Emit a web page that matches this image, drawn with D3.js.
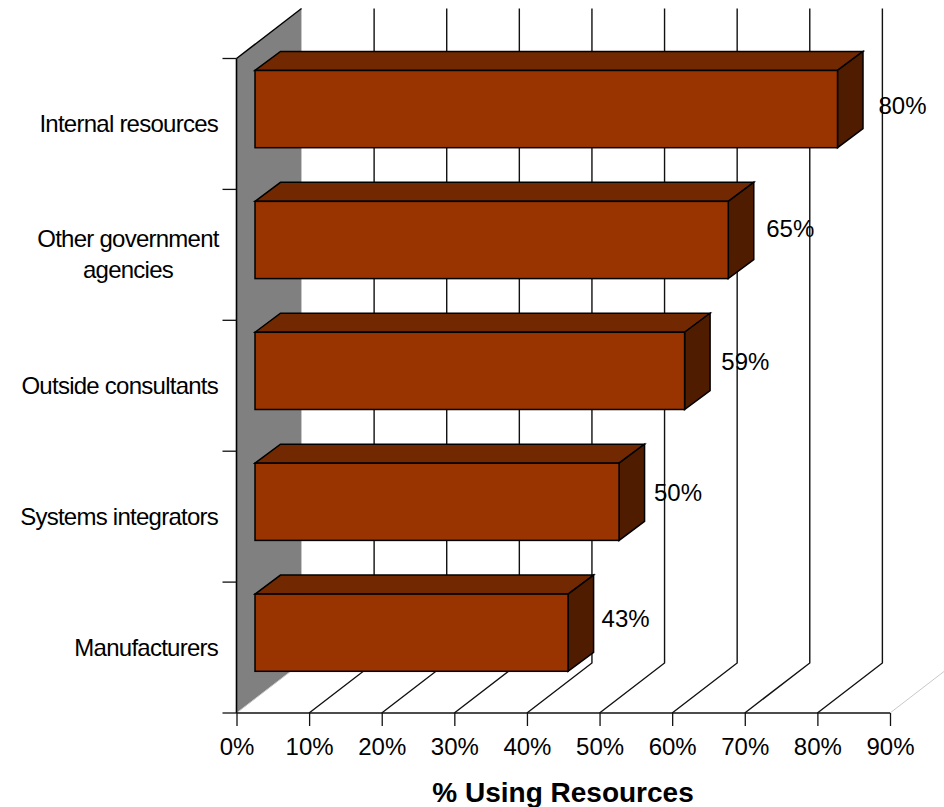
<!DOCTYPE html>
<html><head><meta charset="utf-8">
<script src="https://cdn.jsdelivr.net/npm/d3@7"></script>
<style>html,body{margin:0;padding:0;background:#fff}svg{display:block}text{font-family:"Liberation Sans",Arial,sans-serif;fill:#000}</style>
</head><body><div id="chart"></div>
<script>
const categories = ["Internal resources","Other government agencies","Outside consultants","Systems integrators","Manufacturers"];
const categoryLines = [["Internal resources"],["Other government","agencies"],["Outside consultants"],["Systems integrators"],["Manufacturers"]];
const values = [80,65,59,50,43];
const xTicks = [0,10,20,30,40,50,60,70,80,90];

const W=944,H=807;
const x0=236.5,x90=890,yTop=58.5,yBot=713;
const depth={x:65,y:-50};
const barDepth={x:25.5,y:-19};
const labelPad = d3.scaleLinear().domain([43,80]).range([57.5,65]);
const labelCenterY = [105,228,361,492,618];

const svg=d3.select("#chart").append("svg").attr("width",W).attr("height",H);
const x=d3.scaleLinear().domain([0,90]).range([x0,x90]);
const bx=d3.scaleLinear().domain([0,80]).range([255,837.5]);
const y=d3.scaleBand().domain(categories).range([yTop,yBot]).paddingInner(0.41).paddingOuter(0.205).align(0.223);
const bandTicks=d3.range(categories.length+1).map(i=>yTop+i*(yBot-yTop)/categories.length);

svg.append("path").attr("d",d3.line()([[x0,yTop],[x0+depth.x,yTop+depth.y],[x0+depth.x,yBot+depth.y],[x0,yBot]])+"Z").attr("fill","#808080");
const grid=svg.append("g").attr("fill","none");
xTicks.forEach(t=>{
  const sx=x(t), gx=sx+depth.x, by=yBot+depth.y;
  const c = t===0||t===90? "#c8c8c8":"#111";
  grid.append("path").attr("d",d3.line()([[sx,yBot],[gx,by],[gx,yTop+depth.y]])).attr("stroke",c).attr("stroke-width",t===0||t===90?1:1.4);
});
svg.append("line").attr("x1",x0).attr("y1",yTop).attr("x2",x0+depth.x).attr("y2",yTop+depth.y).attr("stroke","#000").attr("stroke-width",1.4);
svg.append("line").attr("x1",x0).attr("y1",yTop).attr("x2",x0).attr("y2",yBot).attr("stroke","#000").attr("stroke-width",1.6);
svg.append("line").attr("x1",x0).attr("y1",yBot).attr("x2",x90).attr("y2",yBot).attr("stroke","#111").attr("stroke-width",1.4);
bandTicks.forEach(t=>svg.append("line").attr("x1",x0-14).attr("x2",x0).attr("y1",t).attr("y2",t).attr("stroke","#111").attr("stroke-width",1.3));
const ax=svg.append("g").attr("transform",`translate(0,${yBot})`).call(d3.axisBottom(x).tickValues(xTicks).tickSize(13).tickPadding(12).tickFormat(d=>d+"%"));
ax.select(".domain").remove();
ax.selectAll("line").attr("stroke","#111").attr("stroke-width",1.3);
ax.selectAll("text").style("font-size","24px").style("font-family",'"Liberation Sans"').attr("fill","#000");
const bars=svg.append("g").attr("stroke","#000").attr("stroke-width",1.5).attr("stroke-linejoin","miter");
const line=d3.line();
values.forEach((v,i)=>{
  const t=y(categories[i]),h=y.bandwidth(),l=bx(0),r=bx(v);
  bars.append("path").attr("fill","#722800").attr("d",line([[l,t],[l+barDepth.x,t+barDepth.y],[r+barDepth.x,t+barDepth.y],[r,t]])+"Z");
  bars.append("path").attr("fill","#4f1c00").attr("d",line([[r,t],[r+barDepth.x,t+barDepth.y],[r+barDepth.x,t+h+barDepth.y],[r,t+h]])+"Z");
  bars.append("rect").attr("fill","#993300").attr("x",l).attr("y",t).attr("width",r-l).attr("height",h);
  svg.append("text").attr("x",r+labelPad(v)).attr("y",labelCenterY[i]+8.5).attr("text-anchor","middle").style("font-size","24px").text(v+"%");
});
categoryLines.forEach((ls,i)=>{
  const cy=(bandTicks[i]+bandTicks[i+1])/2+ (ls.length>1?-1:0);
  const multi=ls.length>1;
  const tx=svg.append("text").attr("text-anchor",multi?"middle":"end").style("font-size","24px").style("letter-spacing","-0.75px");
  ls.forEach((s,j)=>tx.append("tspan").attr("x",multi?128:218).attr("y",cy+8.5+(j-(ls.length-1)/2)*31).text(s));
});
svg.append("text").attr("x",563).attr("y",802).attr("text-anchor","middle").style("font-size","28px").style("font-weight","bold").text("% Using Resources");
</script></body></html>
